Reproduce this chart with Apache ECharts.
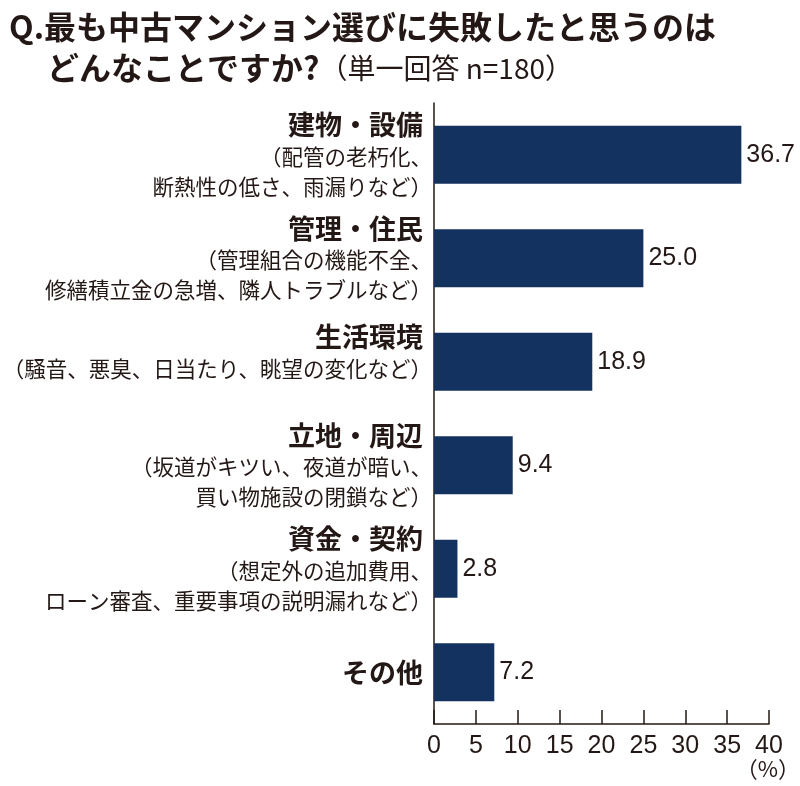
<!DOCTYPE html>
<html>
<head>
<meta charset="utf-8">
<script src="https://cdn.jsdelivr.net/npm/echarts@6/dist/echarts.min.js"></script>
<style>
  html, body { margin: 0; padding: 0; background: #fff; }
  #main { width: 800px; height: 786px; }
</style>
</head>
<body>
<div id="main"></div>
<script>
// 項目・内訳・回答率(%)
const categories = ['建物・設備', '管理・住民', '生活環境', '立地・周辺', '資金・契約', 'その他'];
const details = [
    ['（配管の老朽化、', '断熱性の低さ、雨漏りなど）'],
    ['（管理組合の機能不全、', '修繕積立金の急増、隣人トラブルなど）'],
    ['（騒音、悪臭、日当たり、眺望の変化など）'],
    ['（坂道がキツい、夜道が暗い、', '買い物施設の閉鎖など）'],
    ['（想定外の追加費用、', 'ローン審査、重要事項の説明漏れなど）'],
    []
];
const values = [36.7, 25.0, 18.9, 9.4, 2.8, 7.2];
const xTicks = [0, 40, 5]; // min, max, interval

const jp = '"Noto Sans CJK JP", sans-serif';
const num = '"Liberation Sans Narrow", "Liberation Sans", Arial, sans-serif';
const ink = '#231815';

const chart = echarts.init(document.getElementById('main'));

const option = {
    backgroundColor: '#fff',
    animation: false,
    title: [{
        text: 'Q.最も中古マンション選びに失敗したと思うのは',
        left: 4,
        top: 6,
        textStyle: { fontFamily: jp, fontSize: 32, fontWeight: 'bold', color: ink }
    }, {
        text: '{b|どんなことですか?}{r|（単一回答 n=180）}',
        left: 42,
        top: 47,
        textStyle: {
            rich: {
                b: { fontFamily: jp, fontSize: 32, fontWeight: 'bold', color: ink },
                r: { fontFamily: jp, fontSize: 28, fontWeight: 'normal', color: ink }
            }
        }
    }],
    grid: {
        left: 434,
        right: 31,
        top: 103,
        bottom: 62,
        containLabel: false,
        outerBoundsMode: 'none'
    },
    xAxis: {
        type: 'value',
        min: xTicks[0],
        max: xTicks[1],
        interval: xTicks[2],
        splitLine: { show: false },
        axisLine: { show: true, lineStyle: { color: ink, width: 1.5 } },
        axisTick: { show: true, inside: true, length: 14, lineStyle: { color: ink, width: 1.5 } },
        axisLabel: { fontFamily: num, fontSize: 25, color: ink, margin: 10 }
    },
    yAxis: {
        type: 'category',
        inverse: true,
        data: categories,
        axisLine: { show: true, lineStyle: { color: ink, width: 1.5 } },
        axisTick: { show: false },
        axisLabel: {
            margin: 2,
            formatter: function (value, index) {
                const lines = ['{h|' + value + '}'];
                details[index].forEach(function (s) { lines.push('{s|' + s + '}'); });
                // 2行のときは少し上に寄せる
                if (details[index].length === 1) lines.push('{gap| }');
                return lines.join('\n');
            },
            rich: {
                h: { fontFamily: jp, fontSize: 27, fontWeight: 'bold', color: ink, lineHeight: 34, padding: [0, 9, 0, 0] },
                s: { fontFamily: jp, fontSize: 21.5, color: ink, lineHeight: 30 },
                gap: { fontSize: 10, lineHeight: 20 }
            }
        }
    },
    series: [{
        type: 'bar',
        data: values,
        barWidth: 58,
        itemStyle: { color: '#14325f' },
        label: {
            show: true,
            position: 'right',
            distance: 5,
            fontFamily: num,
            fontSize: 25,
            color: ink,
            formatter: function (p) { return p.value.toFixed(1); }
        }
    }],
    graphic: [{
        type: 'text',
        right: 0,
        top: 758,
        style: { text: '（%）', fontFamily: jp, fontSize: 22, fill: ink }
    }]
};

chart.setOption(option);
</script>
</body>
</html>
